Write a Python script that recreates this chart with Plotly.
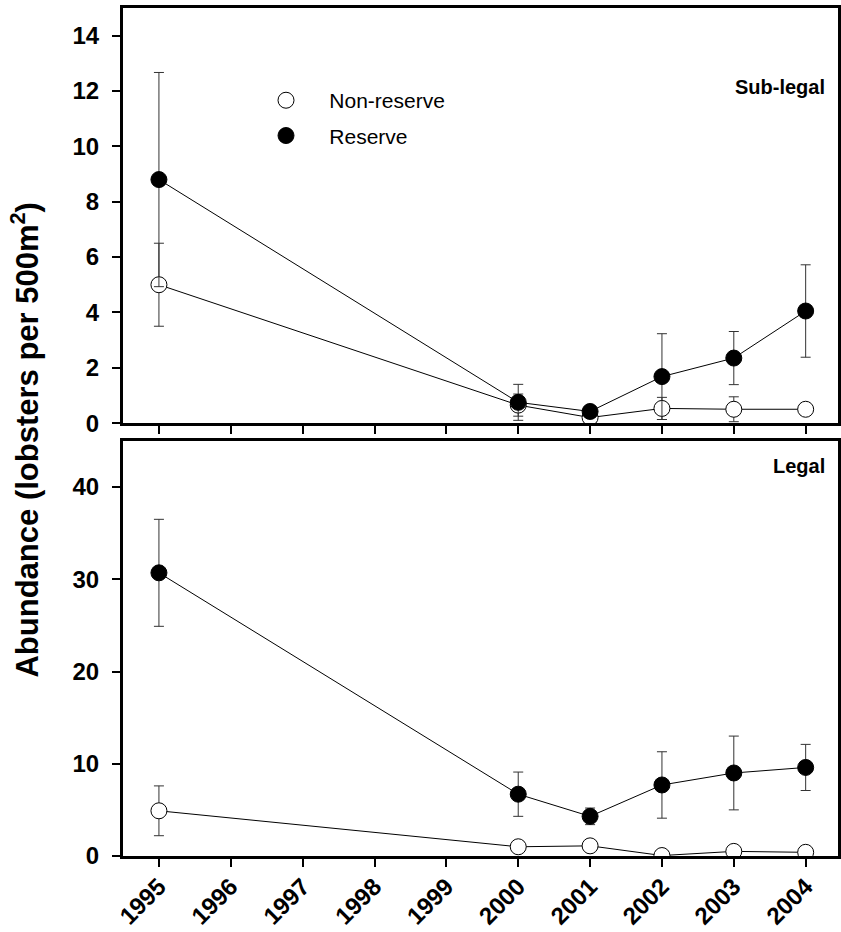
import plotly.graph_objects as go
from plotly.subplots import make_subplots

years = [1995, 2000, 2001, 2002, 2003, 2004]
tick_years = list(range(1995, 2005))

# Sub-legal (top panel)
sub_nonres = [5.0, 0.65, 0.2, 0.53, 0.5, 0.5]
sub_nonres_se = [1.5, 0.4, 0.1, 0.4, 0.45, 0.0]
sub_res = [8.8, 0.75, 0.42, 1.68, 2.35, 4.05]
sub_res_se = [3.87, 0.65, 0.1, 1.55, 0.96, 1.67]

# Legal (bottom panel)
leg_nonres = [4.9, 1.0, 1.1, 0.05, 0.5, 0.4]
leg_nonres_se = [2.7, 0.0, 0.0, 0.0, 0.0, 0.0]
leg_res = [30.7, 6.7, 4.3, 7.7, 9.0, 9.6]
leg_res_se = [5.8, 2.4, 0.9, 3.6, 4.0, 2.5]

FONT = "Arial, Liberation Sans, sans-serif"

fig = make_subplots(rows=2, cols=1, vertical_spacing=0.021)


def marker_style(filled):
    return dict(size=16, symbol="circle",
                color="black" if filled else "white",
                line=dict(color="black", width=1))


def add_series(row, y, se, filled, name):
    fig.add_trace(go.Scatter(
        x=years, y=y, mode="lines+markers", name=name,
        legendgroup=name, showlegend=False,
        line=dict(color="black", width=1),
        marker=marker_style(filled),
        error_y=dict(type="data", array=se, visible=True,
                     color="#333333", thickness=1, width=5),
    ), row=row, col=1)


add_series(1, sub_nonres, sub_nonres_se, False, "Non-reserve")
add_series(1, sub_res, sub_res_se, True, "Reserve")
add_series(2, leg_nonres, leg_nonres_se, False, "Non-reserve")
add_series(2, leg_res, leg_res_se, True, "Reserve")

# legend entries (markers only, like the reference key)
for name, filled in [("Non-reserve", False), ("Reserve", True)]:
    fig.add_trace(go.Scatter(x=[None], y=[None], mode="markers",
                             name="\u00a0\u00a0\u00a0\u00a0" + name,
                             legendgroup=name, showlegend=True,
                             marker=marker_style(filled)), row=1, col=1)

axis_common = dict(showline=True, linecolor="black", linewidth=3, mirror=True,
                   ticks="outside", ticklen=8, tickwidth=2, tickcolor="black",
                   showgrid=False, zeroline=False, automargin=False,
                   tickfont=dict(family=FONT, size=24, color="black", weight="bold"))

fig.update_xaxes(range=[1994.5, 2004.45], tickvals=tick_years, **axis_common)
fig.update_xaxes(showticklabels=False, row=1, col=1)
fig.update_xaxes(tickangle=-45, ticktext=[str(v) for v in tick_years],
                 ticklabelstandoff=-4, row=2, col=1)
fig.update_yaxes(ticklabelstandoff=8, **axis_common)
fig.update_yaxes(range=[0, 15], tickvals=list(range(0, 15, 2)), row=1, col=1)
fig.update_yaxes(range=[0, 45], tickvals=list(range(0, 41, 10)), row=2, col=1)

fig.add_annotation(text="Sub-legal", xref="x domain", yref="y domain", x=0.985, y=0.81,
                   xanchor="right", yanchor="middle", showarrow=False,
                   font=dict(family=FONT, size=20, color="black", weight="bold"))
fig.add_annotation(text="Legal", xref="x2 domain", yref="y2 domain", x=0.985, y=0.94,
                   xanchor="right", yanchor="middle", showarrow=False,
                   font=dict(family=FONT, size=20, color="black", weight="bold"))
fig.add_annotation(text="Abundance (lobsters per 500m<sup>2</sup>)", xref="paper", yref="paper",
                   x=-0.137, y=0.49, xanchor="center", yanchor="middle", textangle=-90,
                   showarrow=False,
                   font=dict(family=FONT, size=31, color="black", weight="bold"))

fig.update_layout(
    width=841, height=932, margin=dict(l=123, r=3, t=8, b=76),
    plot_bgcolor="white", paper_bgcolor="white",
    legend=dict(x=0.2, y=0.915, xanchor="left", yanchor="top",
                font=dict(family=FONT, size=21, color="black"),
                bgcolor="rgba(0,0,0,0)", tracegroupgap=5),
)

fig.write_html("out.html")
